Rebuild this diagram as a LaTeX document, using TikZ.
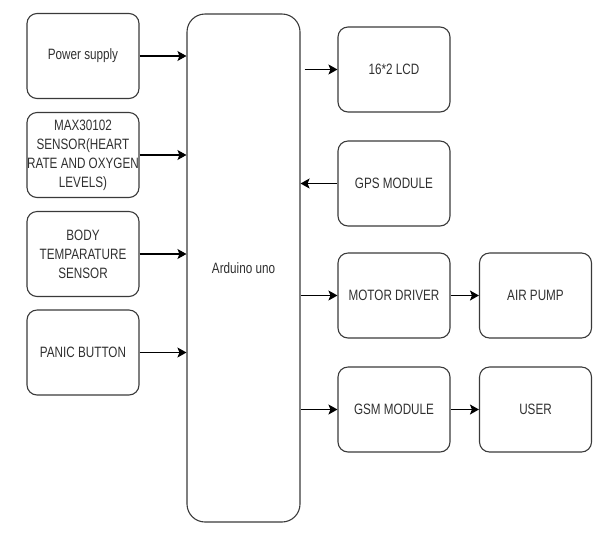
\documentclass[tikz,border=0pt]{standalone}
\usepackage{fontspec}
\setmainfont[FakeStretch=0.78]{Liberation Sans}
\usepackage{xcolor}
\definecolor{edge}{HTML}{3A3A3A}
\definecolor{label}{HTML}{303030}
\usepackage{tikz}
\usetikzlibrary{arrows.meta, positioning, calc}

\begin{document}
\begin{tikzpicture}[
  x=1pt, y=-1pt,
  font=\fontsize{15}{19}\selectfont,
  block/.style={
    rectangle, rounded corners=10pt, draw=edge, line width=1.1pt,
    text=label, align=center,
    minimum width=112pt, minimum height=85pt, inner sep=0pt
  },
  link/.style={-{Stealth[length=9pt,width=10pt,inset=2pt]}, line width=1.1pt, black}
]
  \useasboundingbox (0,0) rectangle (612,550);
  % inputs
  \node[block] (pwr) at (83,56) {Power supply};
  \node[block] (max) at (83,155) {MAX30102\\SENSOR(HEART\\RATE AND OXYGEN\\LEVELS)};
  \node[block] (body) at (83,254) {BODY\\TEMPARATURE\\SENSOR};
  \node[block] (panic) at (83,352.5) {PANIC BUTTON};
  % controller
  \node[block, rounded corners=18pt, minimum width=113pt, minimum height=508pt]
    (uno) at (243.5,268) {Arduino uno};
  % outputs
  \node[block] (lcd) at (394,69.5) {16*2 LCD};
  \node[block] (gps) at (394,183.5) {GPS MODULE};
  \node[block] (motor) at (394,295.5) {MOTOR DRIVER};
  \node[block] (pump) at (535.5,295.5) {AIR PUMP};
  \node[block] (gsm) at (394,409.5) {GSM MODULE};
  \node[block] (user) at (535.5,409.5) {USER};

  \draw[link] (pwr.east) -- (pwr.east -| uno.west);
  \draw[link] (max.east) -- (max.east -| uno.west);
  \draw[link] (body.east) -- (body.east -| uno.west);
  \draw[link] (panic.east) -- (panic.east -| uno.west);
  \draw[link] ([xshift=4pt]uno.east |- lcd.west) -- (lcd.west);
  \draw[link] (gps.west) -- (gps.west -| uno.east);
  \draw[link] (motor.west -| uno.east) -- (motor.west);
  \draw[link] (gsm.west -| uno.east) -- (gsm.west);
  \draw[link] (motor) -- (pump);
  \draw[link] (gsm) -- (user);
\end{tikzpicture}
\end{document}
